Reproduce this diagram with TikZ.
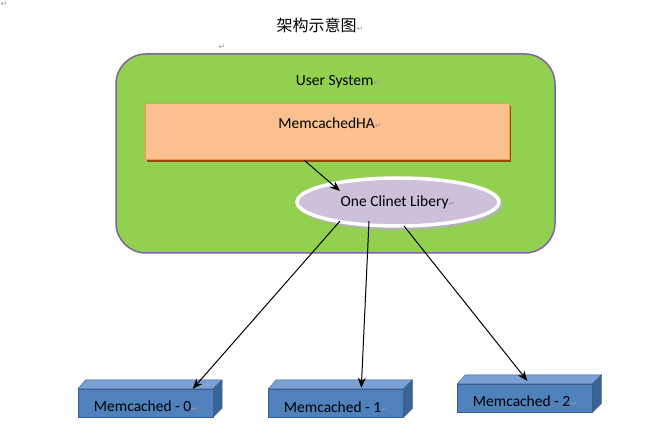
\documentclass[tikz,border=0pt]{standalone}
\usepackage{fontspec}
\setmainfont{Carlito}
\newfontfamily\cjkfont{Noto Sans CJK SC}
\newfontfamily\djv{DejaVu Sans}
\usetikzlibrary{arrows.meta,shapes.geometric,calc}
\definecolor{sysgreen}{HTML}{92D050}
\definecolor{sysborder}{HTML}{8064A2}
\definecolor{hafill}{HTML}{FAC090}
\definecolor{haborder}{HTML}{F79646}
\definecolor{hashadow}{HTML}{984807}
\definecolor{libfill}{HTML}{CCC0DA}
\definecolor{mcfront}{HTML}{4F81BD}
\definecolor{mctop}{HTML}{7BA0D4}
\definecolor{mcside}{HTML}{3B6496}
\definecolor{mcedge}{HTML}{3A5F8C}
\newcommand\pmk{{\djv\fontsize{8}{8}\selectfont\textcolor{black!40}{↵}}}
\begin{document}
\begin{tikzpicture}[x=1pt,y=-1pt,
  lbl/.style={font=\fontsize{15.5}{18}\selectfont, inner sep=0pt},
  conn/.style={draw=black, line width=1pt, -{Stealth[length=10pt,width=8pt]}},
  mcbox/.style={draw=mcedge, line width=0.4pt, fill=mcfront, minimum width=135pt, minimum height=28pt, inner sep=0pt},
  face/.style={draw=mcedge, line width=0.4pt, line join=round},
  pm/.style={inner sep=0pt}
]
\useasboundingbox (0,0) rectangle (650,430);
\fill[white] (0,0) rectangle (650,430);

% paragraph marks and title
\node[pm] (pm0) at (4,4) {\pmk};
\node[inner sep=0pt, font=\cjkfont\fontsize{16}{18}\selectfont] (title) at (320,25) {架构示意图\pmk};
\node[pm] (pm1) at (222,47) {\pmk};

% user system container
\node[draw=sysborder, line width=1.5pt, fill=sysgreen, rounded corners=30pt,
      minimum width=439pt, minimum height=199pt, inner sep=0pt] (sys) at (335.5,153.5) {};
\node[lbl] (systxt) at (338,82) {User System\pmk};

% MemcachedHA
\fill[hashadow] (146.5,106) rectangle (510.5,162);
\node[draw=haborder, line width=1pt, fill=hafill, minimum width=364pt, minimum height=56pt, inner sep=0pt] (ha) at (327,132) {};
\node[lbl] (hatxt) at (330,123) {MemcachedHA\pmk};

% client library
\fill[black!30] (400.5,205) ellipse [x radius=102pt, y radius=25pt];
\node[ellipse, draw=white, line width=3.5pt, fill=libfill, minimum width=202pt, minimum height=48pt,
      inner sep=0pt, font=\fontsize{15.5}{18}\selectfont] (lib) at (398,202) {One Clinet Libery\pmk};

% memcached boxes
\node[mcbox] (m0) at (145.5,403) {};
\node[mcbox] (m1) at (336,403) {};
\node[mcbox] (m2) at (525,398) {};
\foreach \b in {m0,m1,m2}{
  \filldraw[face, fill=mctop] (\b.north west) -- ++(8,-9) -- ($(\b.north east)+(9,-9)$) -- (\b.north east) -- cycle;
  \filldraw[face, fill=mcside] (\b.north east) -- ++(9,-9) -- ($(\b.south east)+(9,-9)$) -- (\b.south east) -- cycle;
}
\node[lbl] (m0txt) at (146,406) {Memcached - 0\pmk};
\node[lbl] (m1txt) at (336,407) {Memcached - 1\pmk};
\node[lbl] (m2txt) at (525,401) {Memcached - 2\pmk};

% connectors
\draw[conn] ($(ha.south west)+(160,0)$) -- ($(lib.center)+(-58,-11)$);
\draw[conn] ($(lib.center)+(-58,19)$) -- ($(m0.north west)+(115,0)$);
\draw[conn] ($(lib.center)+(-29,19)$) -- ($(m1.north west)+(93,-1)$);
\draw[conn] ($(lib.center)+(6,24)$) -- ($(m2.north west)+(70,-3)$);
\end{tikzpicture}
\end{document}
